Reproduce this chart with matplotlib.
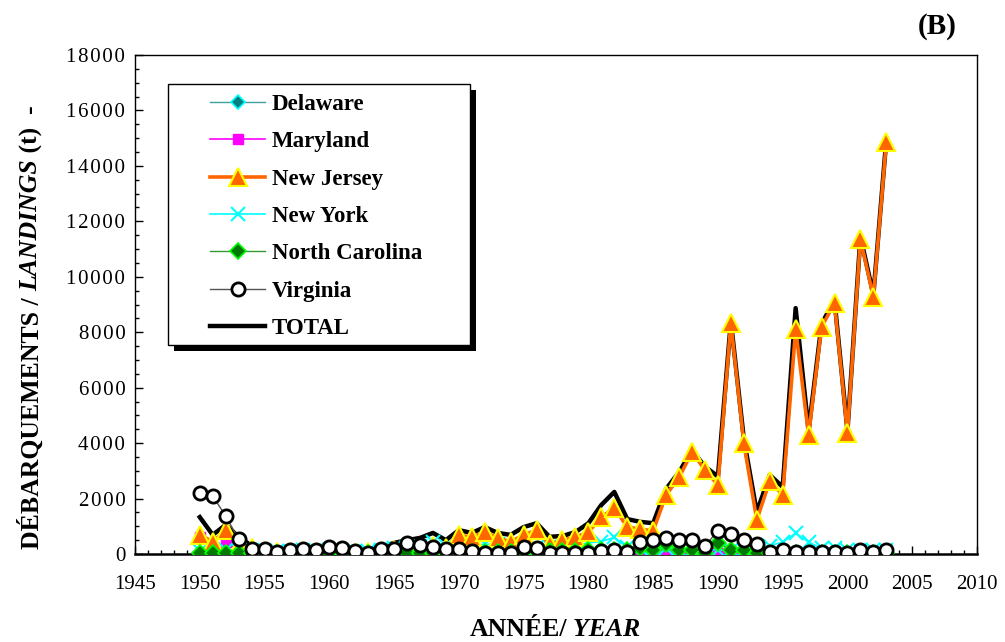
import numpy as np
import matplotlib
matplotlib.use("Agg")
import matplotlib.pyplot as plt
from matplotlib.ticker import MultipleLocator, FuncFormatter
from matplotlib.patches import Rectangle

plt.rcParams['font.family'] = ['Liberation Serif', 'DejaVu Serif']

years = list(range(1950, 2004))

# landings per state (t)
delaware = [40, 30, 40, 30, 20, 20, 20, 20, 20, 20,
            20, 20, 20, 20, 20, 20, 30, 30, 30, 30,
            30, 30, 30, 30, 30, 30, 30, 30, 30, 30,
            30, 30, 30, 30, 30, 30, 30, 30, 30, 30,
            30, 30, 30, 30, 30, 30, 30, 30, 30, 30,
            30, 30, 30, 30]
maryland = [600, 250, 440, 150, 60, 40, 30, 30, 30, 30,
            30, 30, 30, 30, 30, 30, 30, 30, 30, 30,
            30, 30, 30, 30, 30, 30, 30, 30, 30, 30,
            30, 30, 30, 20, 20, 20, 20, 20, 20, 20,
            20, 20, 20, 20, 20, 20, 20, 20, 20, 20,
            20, 20, 20, 20]
new_jersey = [690, 440, 860, 300, 200, 100, 80, 60, 100, 60,
              100, 100, 40, 60, 100, 150, 250, 200, 300, 200,
              690, 600, 790, 580, 440, 690, 860, 350, 500, 610,
              790, 1340, 1650, 980, 890, 840, 2130, 2760, 3680, 3030,
              2490, 8330, 4000, 1230, 2630, 2130, 8120, 4290, 8190, 9050,
              4360, 11360, 9270, 14860]
new_york = [100, 150, 150, 100, 150, 100, 120, 100, 150, 120,
            150, 120, 100, 120, 150, 200, 250, 300, 450, 300,
            250, 300, 350, 350, 250, 250, 250, 250, 250, 300,
            400, 450, 600, 250, 200, 200, 200, 150, 150, 150,
            150, 150, 150, 200, 300, 430, 750, 430, 200, 200,
            150, 150, 150, 150]
north_carolina = [20, 20, 20, 20, 20, 20, 20, 20, 20, 20,
                  20, 20, 20, 20, 20, 20, 40, 40, 40, 40,
                  60, 60, 60, 60, 60, 80, 100, 100, 100, 100,
                  150, 150, 150, 150, 220, 150, 360, 150, 150, 30,
                  400, 150, 150, 40, 40, 40, 40, 40, 40, 40,
                  40, 40, 40, 40]
virginia = [2200, 2090, 1370, 540, 180, 180, 70, 140, 180, 140,
            270, 210, 110, 40, 180, 180, 400, 320, 250, 180,
            180, 110, 40, 40, 40, 260, 200, 40, 40, 40,
            40, 100, 140, 70, 430, 500, 570, 500, 500, 290,
            840, 710, 500, 350, 70, 140, 70, 70, 70, 70,
            40, 140, 70, 140]
total = [1330, 690, 1050, 620, 300, 200, 150, 150, 200, 150,
         250, 200, 150, 150, 250, 400, 500, 580, 760, 500,
         860, 760, 970, 760, 690, 970, 1110, 620, 650, 790,
         1110, 1770, 2240, 1260, 1160, 1110, 2350, 2950, 3750, 3150,
         2800, 8400, 4150, 1510, 2850, 2420, 8870, 4450, 8300, 9150,
         4450, 11450, 9350, 14950]

W, H = 1005, 642
fig = plt.figure(figsize=(W / 100, H / 100), dpi=100)
ax = fig.add_axes([135 / W, 1 - 554 / H, 842 / W, 499 / H])

ax.plot(years, total, color='black', lw=3.2, zorder=2, label='TOTAL')
ax.plot(years, delaware, color='#40a0a0', lw=1.0, marker='D', ms=7,
        mfc='#008080', mec='cyan', mew=1.2, zorder=3, label='Delaware')
ax.plot(years, maryland, color='magenta', lw=1.2, marker='s', ms=7,
        mfc='magenta', mec='magenta', zorder=3, label='Maryland')
ax.plot(years, new_jersey, color='#ff6600', lw=2.6, marker='^', ms=13,
        mfc='#ff6600', mec='yellow', mew=1.5, zorder=4, label='New Jersey')
ax.plot(years, new_york, color='cyan', lw=1.2, marker='x', ms=10,
        mec='cyan', mew=1.5, zorder=3, label='New York')
ax.plot(years, north_carolina, color='#339933', lw=1.0, marker='D', ms=8,
        mfc='#007a00', mec='#00ff00', mew=1.2, zorder=5, label='North Carolina')
ax.plot(years, virginia, color='#555555', lw=1.0, marker='o', ms=9.5,
        mfc='white', mec='black', mew=2.0, zorder=6, label='Virginia')

ax.set_xlim(1945, 2010)
ax.set_ylim(0, 18000)
ax.xaxis.set_major_locator(MultipleLocator(5))
ax.xaxis.set_minor_locator(MultipleLocator(1))
ax.yaxis.set_major_locator(MultipleLocator(2000))
ax.yaxis.set_minor_locator(MultipleLocator(500))

# y labels with the digits spread a little
ax.xaxis.set_major_formatter(FuncFormatter(lambda v, p: str(int(v))))
ax.yaxis.set_major_formatter(FuncFormatter(lambda v, p: '\u200a'.join(str(int(v)))))

ax.tick_params(which='both', direction='in', top=False, right=False,
               labelsize=15, width=1)
ax.tick_params(which='major', length=6)
ax.tick_params(axis='y', which='major', pad=7)
ax.tick_params(axis='x', which='major', pad=15)
ax.tick_params(which='minor', length=3)
for s in ax.spines.values():
    s.set_linewidth(1.0)
ax.spines['bottom'].set_linewidth(1.8)


def ax_xy(px, py):
    return (px - 135) / 842, (554 - py) / 499


# legend box with a hard drop shadow
bx0, by0 = ax_xy(168, 345)
bx1, by1 = ax_xy(470, 84)
sx, sy = ax_xy(174, 351)
ax.add_patch(Rectangle((sx, sy), bx1 - bx0, by1 - by0, transform=ax.transAxes,
                       facecolor='black', edgecolor='none', zorder=9))
ax.add_patch(Rectangle((bx0, by0), bx1 - bx0, by1 - by0, transform=ax.transAxes,
                       facecolor='white', edgecolor='black', lw=1.0, zorder=10))

handles, labels = ax.get_legend_handles_labels()
order = [1, 2, 3, 4, 5, 6, 0]
leg = ax.legend([handles[i] for i in order], [labels[i] for i in order],
                loc='upper left', bbox_to_anchor=ax_xy(210, 94),
                frameon=False, borderpad=0, borderaxespad=0,
                handlelength=2.4, handletextpad=0.3, labelspacing=0.71,
                prop={'weight': 'bold', 'size': 16.5})
leg.set_zorder(11)

# y axis title in upright / italic pieces
t1 = fig.text(0.031, 1 - 549 / H, 'DÉBARQUEMENTS / ', rotation=90, fontsize=18.5,
              fontweight='bold', ha='center', va='bottom')
t2 = ax.annotate('LANDINGS', xy=(0.5, 1), xycoords=t1, rotation=90,
                 fontsize=18.5, fontweight='bold', fontstyle='italic',
                 ha='center', va='bottom')
t3 = ax.annotate(' (t)', xy=(0.5, 1), xycoords=t2, rotation=90,
                 fontsize=18.5, fontweight='bold', ha='center', va='bottom')
ax.annotate('  -', xy=(0.5, 1), xycoords=t3, rotation=90,
            fontsize=18.5, fontweight='bold', ha='center', va='bottom')

# x axis title
x1 = fig.text(0.564, 1 - 636 / H, 'ANNÉE/', fontsize=18.5, fontweight='bold',
              ha='right', va='baseline')
ax.annotate(' YEAR', xy=(1, 0), xycoords=x1, fontsize=18.5, fontweight='bold',
            fontstyle='italic', ha='left', va='bottom')

fig.text(937 / W, 1 - 27 / H, '(B)', fontsize=21, fontweight='bold',
         ha='center', va='center')

fig.savefig('out.png', dpi=100)
